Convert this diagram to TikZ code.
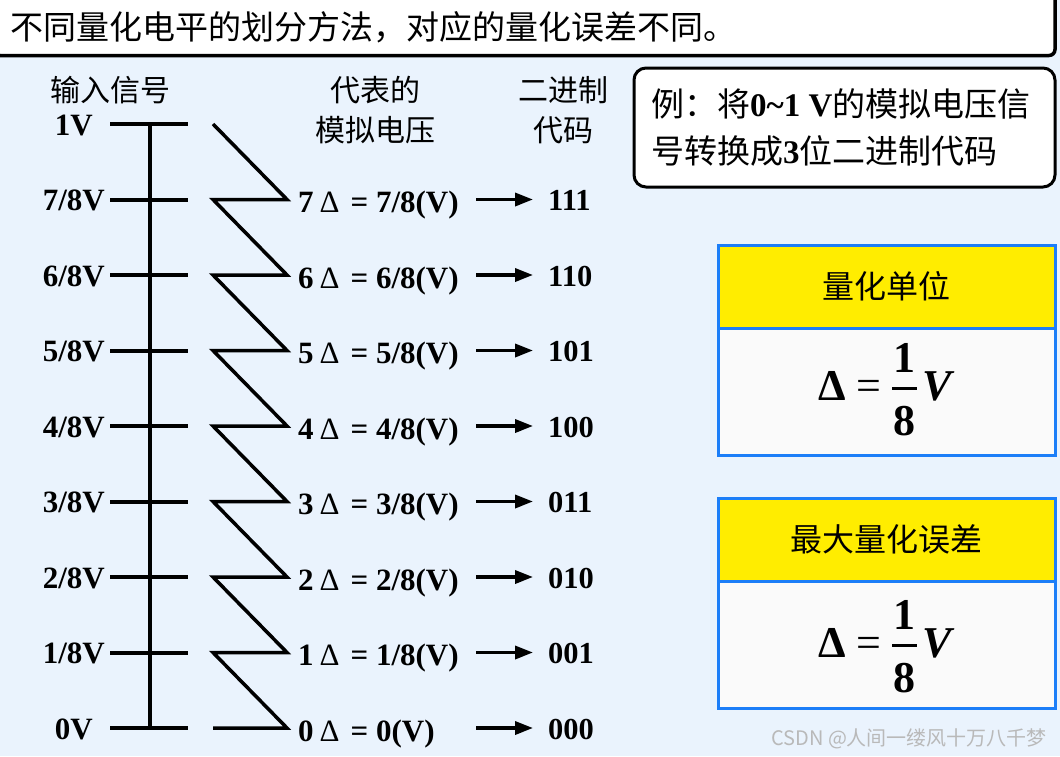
\documentclass[tikz,border=0pt]{standalone}
\usepackage{fontspec}
\setmainfont{Liberation Serif}
\newfontfamily\cjk{Noto Sans CJK SC}
\usetikzlibrary{arrows.meta}
\definecolor{bg}{RGB}{234,243,253}
\definecolor{ylw}{RGB}{255,237,0}
\definecolor{bblue}{RGB}{28,126,248}
\definecolor{bodyw}{RGB}{250,250,250}
\tikzset{
  txt/.style={inner sep=0pt},
  lvl/.style={txt, anchor=base east, font=\fontsize{31}{36}\selectfont\bfseries},
  dlt/.style={txt, anchor=base west, font=\fontsize{31}{36}\selectfont},
  codet/.style={txt, anchor=base west, font=\fontsize{30.5}{36}\selectfont\bfseries},
  head/.style={txt, anchor=base, font=\cjk\fontsize{30}{36}\selectfont},
  tick/.style={line width=4pt},
  zz/.style={line width=3.5pt},
  arr/.style={line width=3.5pt, -{Triangle[length=18pt,width=13pt]}},
  hdrbox/.style={draw=bblue, line width=3pt, fill=ylw, minimum width=337pt, minimum height=83pt, inner sep=0pt, font=\cjk\fontsize{32}{38}\selectfont},
  bodybox/.style={draw=bblue, line width=3pt, fill=bodyw, minimum width=337pt, minimum height=127pt, inner sep=0pt},
  fml/.style={txt, font=\fontsize{44}{50}\selectfont\bfseries},
}
\begin{document}
\begin{tikzpicture}[x=1pt,y=-1pt]
\fill[bg] (0,0) rectangle (1060,756);
\useasboundingbox (0,0) rectangle (1060,756);

% title bar
\draw[line width=3.5pt, fill=white, rounded corners=6pt] (-6,-12) rectangle (1055,55.5);
\node[txt, anchor=base west, font=\cjk\fontsize{33}{40}\selectfont] (title) at (10,39.5) {不同量化电平的划分方法，对应的量化误差不同。};

% column headers
\node[head] (h1) at (110,101) {输入信号};
\node[head] (h2a) at (375,101) {代表的};
\node[head] (h2b) at (375,141) {模拟电压};
\node[head] (h3a) at (563,101) {二进制};
\node[head] (h3b) at (563,141) {代码};

% level coordinates
\foreach \k in {0,...,8}{
  \pgfmathsetmacro\yy{124+(8-\k)*75.5}
  \coordinate (tl\k) at (110,\yy);
  \coordinate (tr\k) at (188,\yy);
  \coordinate (zl\k) at (213,\yy);
  \coordinate (zr\k) at (287,\yy);
  \coordinate (as\k) at (476,\yy);
  \coordinate (ae\k) at (533,\yy);
}
\coordinate (axtop) at (150,124);
\coordinate (axbot) at (150,728);
\draw[tick] (axtop) -- (axbot);
\foreach \k in {0,...,8}{ \draw[tick] (tl\k) -- (tr\k); }

% left labels
\node[lvl] (l8) at (93,135) {1V};
\node[lvl] (l0) at (93,739) {0V};
\foreach \k in {1,...,7}{
  \pgfmathsetmacro\yy{124+(8-\k)*75.5}
  \node[lvl] (l\k) at (105,\yy+11) {\k/8V};
}

% zigzag
\draw[zz] (zl8) -- (zr7) -- (zl7) -- (zr6) -- (zl6) -- (zr5) -- (zl5) -- (zr4) -- (zl4)
  -- (zr3) -- (zl3) -- (zr2) -- (zl2) -- (zr1) -- (zl1) -- (zr0) -- (zl0);

% delta labels, arrows, codes
\foreach \k/\code in {7/111,6/110,5/101,4/100,3/011,2/010,1/001}{
  \pgfmathsetmacro\yy{124+(8-\k)*75.5}
  \node[dlt] (d\k) at (298,\yy+13) {{\bfseries\k}\hspace{6pt}Δ\hspace{11pt}{\bfseries = \k/8(V)}};
  \draw[arr] (as\k) -- (ae\k);
  \node[codet] (c\k) at (548,\yy+11) {\code};
}
\node[dlt] (d0) at (298,741) {{\bfseries 0}\hspace{6pt}Δ\hspace{11pt}{\bfseries = 0(V)}};
\draw[arr] (as0) -- (ae0);
\node[codet] (c0) at (548,739) {000};

% example box
\draw[line width=3pt, fill=white, rounded corners=12pt] (634,68) rectangle (1055,187);
\node[txt, anchor=base west, font=\fontsize{33}{38}\selectfont] (ex1) at (651,116)
  {{\cjk 例：将}{\bfseries 0\textasciitilde1 V}{\cjk 的模拟电压信}};
\node[txt, anchor=base west, font=\fontsize{33}{38}\selectfont] (ex2) at (651,163)
  {{\cjk 号转换成}{\bfseries 3}{\cjk 位二进制代码}};

% box 1
\node[bodybox] (b1) at (886.5,391.5) {};
\node[hdrbox] (hb1) at (886.5,286.5) {量化单位};
% box 2
\node[bodybox] (b2) at (886.5,644.5) {};
\node[hdrbox] (hb2) at (886.5,539.5) {最大量化误差};

% formulas
\foreach \n/\bar in {1/388,2/645}{
  \node[fml, anchor=base west] (fd\n) at (818,\bar+12) {Δ};
  \node[fml, anchor=base west, font=\fontsize{44}{50}\selectfont] (fe\n) at (856,\bar+12) {=};
  \node[fml, anchor=base] (fn\n) at (904.5,\bar-16) {1};
  \node[fml, anchor=base] (fq\n) at (904.5,\bar+47) {8};
  \coordinate (fbl\n) at (892,\bar);
  \coordinate (fbr\n) at (917,\bar);
  \draw[line width=3pt] (fbl\n) -- (fbr\n);
  \node[fml, anchor=base west, font=\fontsize{44}{50}\selectfont\bfseries\itshape] (fv\n) at (922,\bar+12) {V};
}

% watermark
\node[txt, anchor=base west, font=\cjk\fontsize{20}{24}\selectfont, text=gray!55] (wm) at (771,745.5) {CSDN @人间一缕风十万八千梦};
\end{tikzpicture}
\end{document}
